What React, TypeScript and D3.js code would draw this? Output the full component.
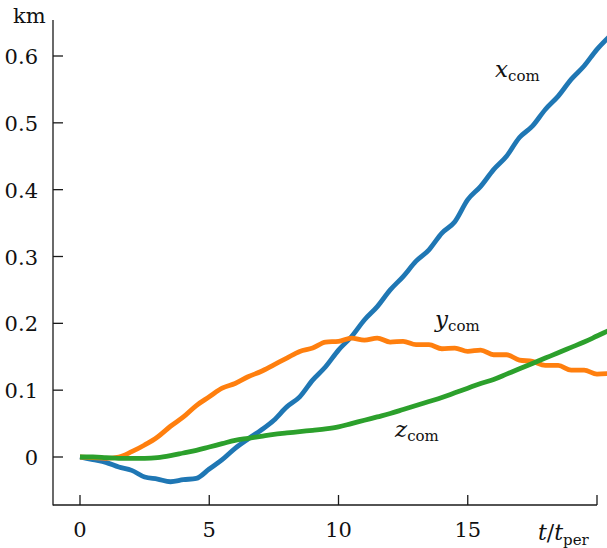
import React, { useEffect, useRef } from 'react';
import * as d3 from 'd3';

// time in units of t_per, sampled every half period
const times = d3.range(0, 20.51, 0.5);

const xCom = [
  0, -0.004, -0.008, -0.015, -0.02, -0.03, -0.033, -0.037, -0.034, -0.032,
  -0.018, -0.004, 0.013, 0.027, 0.04, 0.055, 0.075, 0.09, 0.115, 0.135,
  0.16, 0.18, 0.205, 0.225, 0.25, 0.27, 0.293, 0.31, 0.335, 0.352,
  0.385, 0.405, 0.43, 0.45, 0.478, 0.495, 0.52, 0.54, 0.565, 0.585,
  0.61, 0.63,
];

const yCom = [
  0, -0.001, -0.002, 0.0, 0.008, 0.018, 0.03, 0.046, 0.06, 0.077,
  0.09, 0.103, 0.11, 0.12, 0.128, 0.138, 0.148, 0.158, 0.163, 0.172,
  0.173, 0.178, 0.175, 0.178, 0.172, 0.173, 0.168, 0.168, 0.162, 0.163,
  0.158, 0.16, 0.153, 0.153, 0.145, 0.143, 0.137, 0.137, 0.13, 0.13,
  0.124, 0.125,
];

const zCom = [
  0, 0, -0.001, -0.002, -0.002, -0.002, -0.001, 0.002, 0.006, 0.01,
  0.015, 0.02, 0.025, 0.028, 0.031, 0.034, 0.036, 0.038, 0.04, 0.042,
  0.045, 0.05, 0.055, 0.06, 0.065, 0.071, 0.077, 0.083, 0.089, 0.096,
  0.103, 0.11, 0.116, 0.124, 0.132, 0.14, 0.148, 0.156, 0.164, 0.172,
  0.181, 0.19,
];

const xTicks = [0, 5, 10, 15, 20];
const xTickLabels = ['0', '5', '10', '15', ''];
const yTicks = [0, 0.1, 0.2, 0.3, 0.4, 0.5, 0.6];

const series = [
  { name: 'x', values: xCom, color: '#1f77b4', label: [495, 77] },
  { name: 'y', values: yCom, color: '#ff7f0e', label: [435, 327] },
  { name: 'z', values: zCom, color: '#2ca02c', label: [395, 437] },
];

const W = 607;
const H = 548;
const FONT = "'DejaVu Serif', serif";

export default function App() {
  const ref = useRef<SVGSVGElement>(null);

  useEffect(() => {
    const svg = d3.select(ref.current);
    svg.selectAll('*').remove();

    const x = d3.scaleLinear().domain([0, 20]).range([80, 597]);
    const y = d3.scaleLinear().domain([0, 0.6]).range([457, 56]);
    const axisColor = '#1a1a1a';
    const left = 53;
    const bottom = 505;

    // spines
    svg.append('line')
      .attr('x1', left).attr('x2', left)
      .attr('y1', 20).attr('y2', bottom + 0.6)
      .attr('stroke', axisColor).attr('stroke-width', 1.3);
    svg.append('line')
      .attr('x1', left).attr('x2', x(20))
      .attr('y1', bottom).attr('y2', bottom)
      .attr('stroke', axisColor).attr('stroke-width', 1.3);

    // y ticks
    const yt = svg.append('g');
    yt.selectAll('line').data(yTicks).enter().append('line')
      .attr('x1', left).attr('x2', left + 10)
      .attr('y1', (d) => y(d)).attr('y2', (d) => y(d))
      .attr('stroke', axisColor).attr('stroke-width', 1.3);
    yt.selectAll('text').data(yTicks).enter().append('text')
      .attr('x', 38).attr('y', (d) => y(d) + 8)
      .attr('text-anchor', 'end')
      .attr('font-family', FONT).attr('font-size', 21)
      .attr('fill', '#111')
      .text((d) => (d === 0 ? '0' : d3.format('.1f')(d)));

    // x ticks
    const xt = svg.append('g');
    xt.selectAll('line').data(xTicks).enter().append('line')
      .attr('x1', (d) => x(d)).attr('x2', (d) => x(d))
      .attr('y1', bottom).attr('y2', bottom - 10)
      .attr('stroke', axisColor).attr('stroke-width', 1.3);
    xt.selectAll('text').data(xTicks).enter().append('text')
      .attr('x', (d) => x(d)).attr('y', 537)
      .attr('text-anchor', 'middle')
      .attr('font-family', FONT).attr('font-size', 21)
      .attr('fill', '#111')
      .text((d, i) => xTickLabels[i]);

    // unit label
    svg.append('text')
      .attr('x', 13).attr('y', 23)
      .attr('font-family', FONT).attr('font-size', 21)
      .attr('fill', '#111')
      .text('km');

    // x axis label t/t_per
    const tl = svg.append('text')
      .attr('x', 538).attr('y', 540)
      .attr('font-family', FONT).attr('font-size', 22)
      .attr('fill', '#111');
    tl.append('tspan').attr('font-style', 'italic').text('t');
    tl.append('tspan').text('/');
    tl.append('tspan').attr('font-style', 'italic').text('t');
    tl.append('tspan').attr('font-size', 15).attr('dy', 5).text('per');

    // curves
    const line = d3.line<number>()
      .x((d, i) => x(times[i]))
      .y((d) => y(d))
      .curve(d3.curveMonotoneX);

    series.forEach((s) => {
      svg.append('path')
        .attr('d', line(s.values))
        .attr('fill', 'none')
        .attr('stroke', s.color)
        .attr('stroke-width', 4.8)
        .attr('stroke-linejoin', 'round');
    });

    // series labels
    series.forEach((s) => {
      const t = svg.append('text')
        .attr('x', s.label[0]).attr('y', s.label[1])
        .attr('font-family', FONT).attr('font-size', 23)
        .attr('fill', '#111');
      t.append('tspan').attr('font-style', 'italic').text(s.name);
      t.append('tspan').attr('font-size', 15).attr('dy', 4).text('com');
    });
  }, []);

  return (
    <svg
      ref={ref}
      width={W}
      height={H}
      style={{ position: 'absolute', left: 0, top: 0, background: '#fff' }}
    />
  );
}
